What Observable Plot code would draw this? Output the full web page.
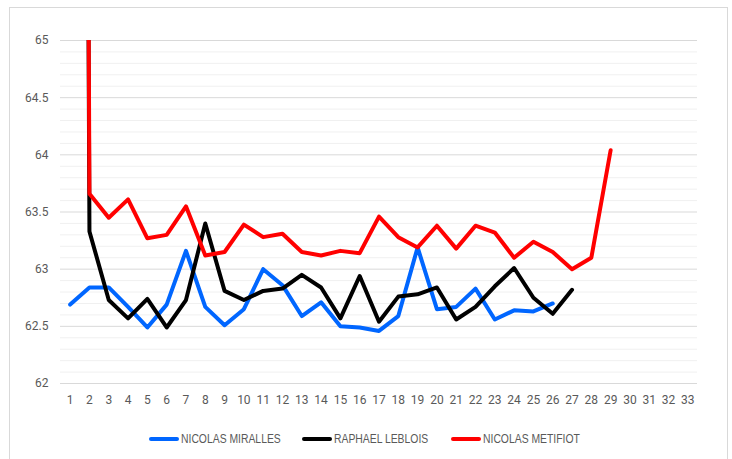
<!DOCTYPE html>
<html><head><meta charset="utf-8">
<script src="https://cdn.jsdelivr.net/npm/d3@7"></script>
<script src="https://cdn.jsdelivr.net/npm/@observablehq/plot@0.6"></script>
<style>
body{margin:0;background:#fff;}
#wrap{position:relative;width:732px;height:459px;overflow:hidden;background:#fff}
#frame{position:absolute;left:9px;top:7px;width:719px;height:480px;border:1.5px solid #d9d9d9;box-sizing:border-box}
#chart{position:absolute;left:0;top:0}
#legend{position:absolute;top:431px;left:0;width:732px;display:flex;justify-content:center;gap:22px;font-family:"Liberation Sans",sans-serif;font-size:12.5px;color:#595959;padding-right:4px;box-sizing:border-box}
.item{display:flex;align-items:center;gap:2px;white-space:nowrap}
.sw{width:30px;height:4px;border-radius:2px;display:inline-block}
.lbl{display:inline-block;overflow:visible;height:16px;line-height:16px}
.lbl span{display:inline-block;transform-origin:0 50%}
</style>
</head><body>
<div id="wrap"><div id="frame"></div><div id="chart"></div><div id="legend"></div></div>
<script>
const laps = d3.range(1, 34);
const seriesNames = ["NICOLAS MIRALLES", "RAPHAEL LEBLOIS", "NICOLAS METIFIOT"];
const seriesColors = ["#0066ff", "#000000", "#ff0000"];
// lap 1 for Leblois & Metifiot is far above the axis maximum (off-chart, clipped)
const miralles = [62.69,62.84,62.84,62.67,62.49,62.69,63.16,62.67,62.51,62.65,63.00,62.86,62.59,62.71,62.50,62.49,62.46,62.59,63.19,62.65,62.67,62.83,62.56,62.64,62.63,62.70];
const leblois = [100,63.33,62.73,62.57,62.74,62.49,62.73,63.40,62.81,62.73,62.81,62.83,62.95,62.84,62.57,62.94,62.54,62.76,62.78,62.84,62.56,62.67,62.85,63.01,62.75,62.61,62.82];
const metifiot = [100,63.66,63.45,63.61,63.27,63.30,63.55,63.12,63.15,63.39,63.28,63.31,63.15,63.12,63.16,63.14,63.46,63.28,63.19,63.38,63.18,63.38,63.32,63.10,63.24,63.15,63.00,63.10,64.04];
const yMajor = [62, 62.5, 63, 63.5, 64, 64.5, 65];
const yMinor = d3.range(0, 31).map(i => 62 + i / 10).filter(v => Math.abs(v * 2 - Math.round(v * 2)) > 1e-6);

const allSeries = [miralles, leblois, metifiot];
const rows = allSeries.flatMap((vals, si) => vals.map((v, i) => ({lap: laps[i], value: v, series: seriesNames[si]})));

const chart = Plot.plot({
  width: 732, height: 420,
  marginLeft: 60, marginRight: 35, marginTop: 40, marginBottom: 37,
  style: {fontFamily: "Roboto, 'Liberation Sans', sans-serif", fontSize: "12px", color: "#595959", background: "transparent"},
  x: {type: "point", domain: laps, padding: 0.5, round: false, label: null, tickSize: 0, tickPadding: 12},
  y: {domain: [62, 65], ticks: yMajor, label: null, tickSize: 0, tickPadding: 12, tickFormat: d => String(d)},
  color: {domain: seriesNames, range: seriesColors},
  marks: [
    Plot.ruleY(yMinor, {stroke: "#f0f0f0", strokeWidth: 1}),
    Plot.ruleY(yMajor, {stroke: "#d9d9d9", strokeWidth: 1}),
    Plot.line(rows, {x: "lap", y: "value", z: "series", stroke: "series", strokeWidth: 4, strokeLinejoin: "round", strokeLinecap: "round", clip: true})
  ]
});
document.getElementById("chart").appendChild(chart);

// legend (condensed text to mimic the narrow original face)
const legend = document.getElementById("legend");
const condense = 0.83;
seriesNames.forEach((n, i) => {
  const it = document.createElement("div"); it.className = "item";
  const sw = document.createElement("span"); sw.className = "sw"; sw.style.background = seriesColors[i];
  const box = document.createElement("span"); box.className = "lbl";
  const t = document.createElement("span"); t.textContent = n;
  box.appendChild(t);
  it.appendChild(sw); it.appendChild(box); legend.appendChild(it);
  const w = t.getBoundingClientRect().width;
  t.style.transform = `scaleX(${condense})`;
  box.style.width = (w * condense) + "px";
});
</script>
</body></html>
